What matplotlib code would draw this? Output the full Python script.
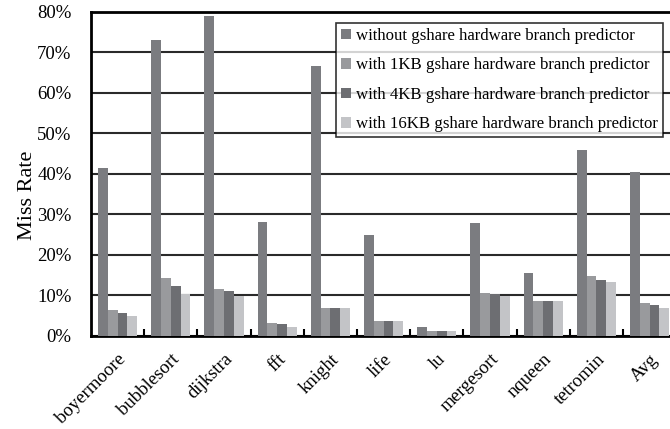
import matplotlib.pyplot as plt
import numpy as np

benchmarks = ["boyermoore", "bubblesort", "dijkstra", "fft", "knight", "life",
              "lu", "mergesort", "nqueen", "tetromin", "Avg"]
series_names = ["without gshare hardware branch predictor",
                "with 1KB gshare hardware branch predictor",
                "with 4KB gshare hardware branch predictor",
                "with 16KB gshare hardware branch predictor"]
no_gshare = [41.4, 73.0, 79.1, 28.1, 66.6, 24.9, 2.1, 27.8, 15.5, 45.8, 40.4]
gshare_1kb = [6.2, 14.2, 11.6, 3.0, 6.8, 3.5, 1.15, 10.4, 8.6, 14.6, 8.1]
gshare_4kb = [5.6, 12.3, 10.9, 2.8, 6.8, 3.5, 1.15, 10.3, 8.6, 13.7, 7.5]
gshare_16kb = [4.9, 10.3, 9.7, 2.1, 6.8, 3.5, 1.15, 9.8, 8.6, 13.2, 6.9]
yticks = [0, 10, 20, 30, 40, 50, 60, 70, 80]

colors = ["#7b7c80", "#999a9d", "#6d6e72", "#c3c4c7"]

plt.rcParams['font.family'] = ['Liberation Serif', 'DejaVu Serif']

fig = plt.figure(figsize=(6.7, 4.29), dpi=100)
ax = fig.add_axes([91 / 670, (429 - 335.5) / 429, (670 - 91) / 670, 323.5 / 429])

x = np.arange(len(benchmarks))
w = 0.185
data = [no_gshare, gshare_1kb, gshare_4kb, gshare_16kb]
for i, (vals, name) in enumerate(zip(data, series_names)):
    ax.bar(x + (i - 1.5) * w, vals, w, color=colors[i], label=name, zorder=3)

ax.set_ylim(0, 80)
ax.set_xlim(-0.5, -0.5 + (670 - 91) / 53.2)
ax.set_yticks(yticks)
ax.set_yticklabels([f"{v}%" for v in yticks], fontsize=13.5)
ax.yaxis.grid(True, color="#2a2a2a", linewidth=1.5, zorder=0)
ax.tick_params(axis='y', length=0, pad=14)

# boundary ticks pointing up, labels at group centres
ax.set_xticks(x[:-1] + 0.5)
ax.set_xticklabels([])
ax.tick_params(axis='x', which='major', direction='in', length=5, width=1.5)
ax.set_xticks(x, minor=True)
ax.set_xticklabels(benchmarks, minor=True, rotation=45, ha='right',
                   rotation_mode='anchor', fontsize=13.5)
ax.tick_params(axis='x', which='minor', length=0, pad=11)

for s in ['left', 'bottom', 'top']:
    ax.spines[s].set_linewidth(2)
    ax.spines[s].set_color("black")
ax.spines['right'].set_visible(False)

fig.text(28 / 670, 1 - 195 / 429, "Miss Rate", rotation=90, ha='center',
         va='center', fontsize=16)

leg = ax.legend(loc='upper right', bbox_to_anchor=(572 / 579, 1 - 11 / 323.5),
                fontsize=12.1, frameon=True, fancybox=False, edgecolor='black',
                handlelength=0.6, handleheight=0.6, handletextpad=0.3,
                labelspacing=0.8, borderpad=0.3, borderaxespad=0)
leg.get_frame().set_linewidth(1.2)
leg.set_zorder(5)

fig.savefig("out.png", dpi=100)
